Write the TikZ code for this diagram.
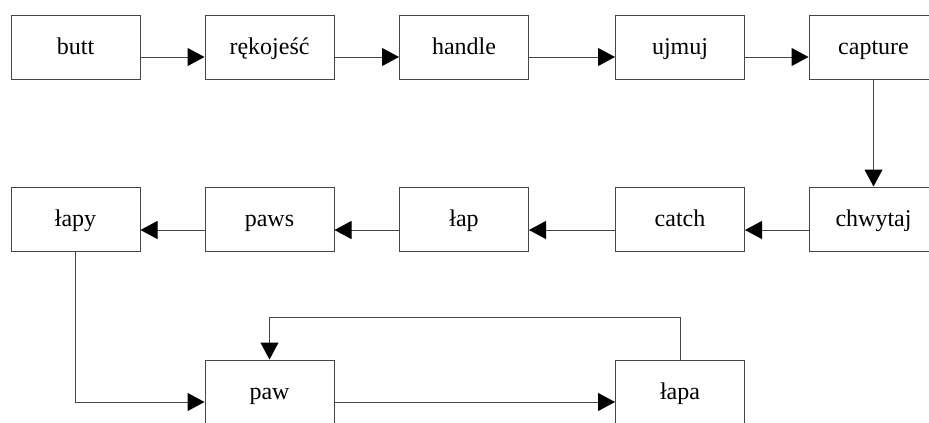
\documentclass[tikz,border=0pt]{standalone}
\usepackage{fontspec}
\setmainfont{Liberation Serif}
\usetikzlibrary{arrows.meta}
\definecolor{edgegray}{RGB}{70,70,70}
\begin{document}
\begin{tikzpicture}[x=1pt,y=-1pt,
  box/.style={draw=edgegray,line width=1pt,rectangle,inner sep=0pt,
    minimum width=129pt,minimum height=64pt,
    text height=19pt,text depth=5pt,font=\fontsize{24}{28}\selectfont},
  arr/.style={draw=edgegray,line width=1pt,
    -{Triangle[length=17pt,width=18pt,color=black,fill=black]}},
  link/.style={draw=edgegray,line width=1pt}]
\useasboundingbox (0,0) rectangle (929,423);
\clip (0,0) rectangle (929,423);

% first row
\node[box] (butt)    at (75.5,47)  {butt};
\node[box] (rek)     at (269.5,47) {rękojeść};
\node[box] (handle)  at (464,47)   {handle};
\node[box] (ujmuj)   at (680,47)   {ujmuj};
\node[box] (capture) at (873.5,47) {capture};

% second row
\node[box] (lapy)    at (75.5,219)  {łapy};
\node[box] (paws)    at (269.5,219) {paws};
\node[box] (lap)     at (464,219)   {łap};
\node[box] (catch)   at (680,219)   {catch};
\node[box] (chwytaj) at (873.5,219) {chwytaj};

% third row
\node[box] (paw)  at (269.5,392) {paw};
\node[box] (lapa) at (680,392)   {łapa};

% connectors along the first row
\draw[arr] ([yshift=-10pt]butt.east)   -- ([yshift=-10pt]rek.west);
\draw[arr] ([yshift=-10pt]rek.east)    -- ([yshift=-10pt]handle.west);
\draw[arr] ([yshift=-10pt]handle.east) -- ([yshift=-10pt]ujmuj.west);
\draw[arr] ([yshift=-10pt]ujmuj.east)  -- ([yshift=-10pt]capture.west);
\draw[arr] (capture.south) -- (chwytaj.north);

% connectors along the second row
\draw[arr] ([yshift=-11pt]chwytaj.west) -- ([yshift=-11pt]catch.east);
\draw[arr] ([yshift=-11pt]catch.west)   -- ([yshift=-11pt]lap.east);
\draw[arr] ([yshift=-11pt]lap.west)     -- ([yshift=-11pt]paws.east);
\draw[arr] ([yshift=-11pt]paws.west)    -- ([yshift=-11pt]lapy.east);

% third row and feedback loop
\draw[arr] (lapy.south) |- ([yshift=-10pt]paw.west);
\draw[arr] ([yshift=-10pt]paw.east) -- ([yshift=-10pt]lapa.west);
\coordinate (loop) at (680,317);
\draw[arr] (lapa.north) -- (loop) -| (paw.north);
\end{tikzpicture}
\end{document}
